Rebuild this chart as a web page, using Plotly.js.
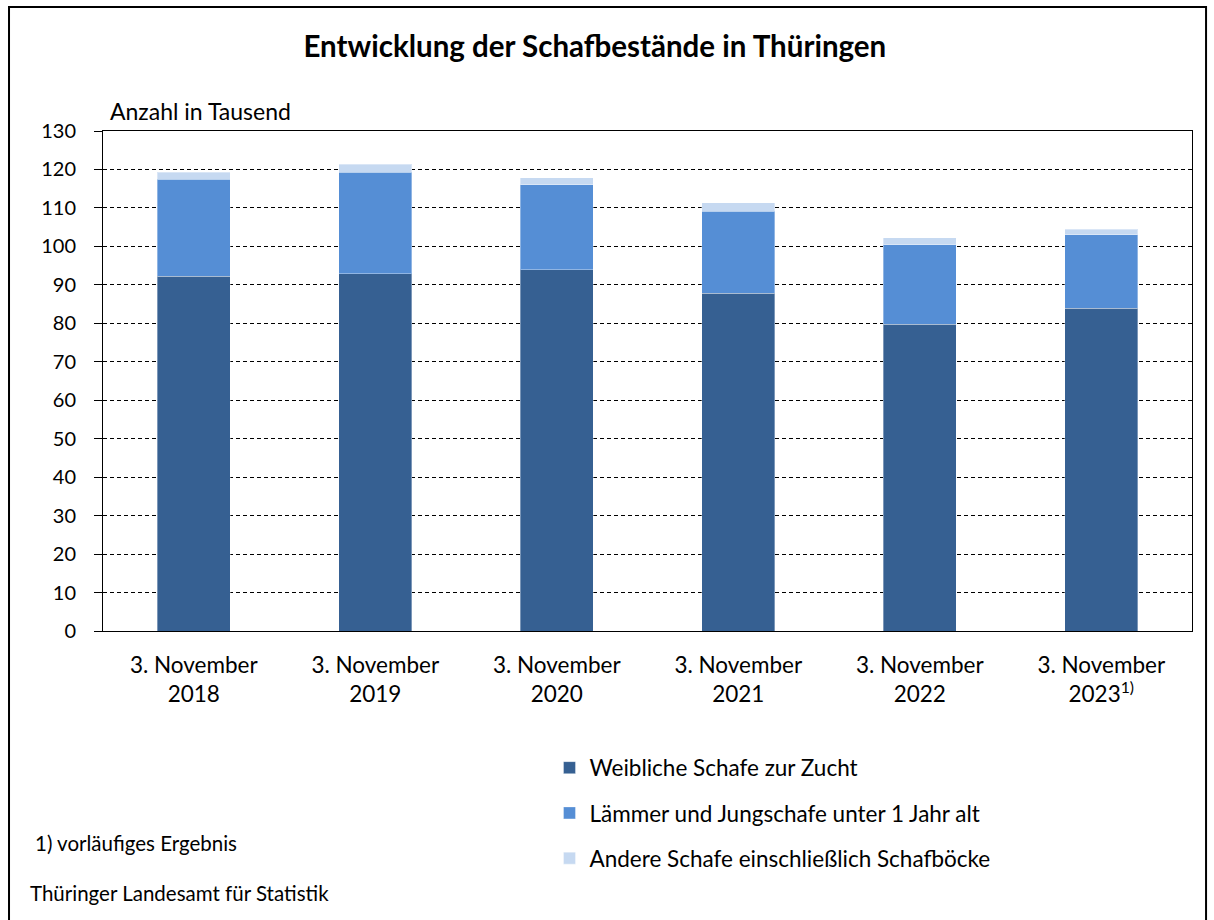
<!DOCTYPE html>
<html><head><meta charset="utf-8">
<script src="https://cdn.plot.ly/plotly-3.0.1.min.js"></script>
<style>html,body{margin:0;padding:0;background:#fff}#chart{width:1214px;height:920px}</style>
</head><body><div id="chart"></div>
<script>
const categories = ["3. November<br>2018","3. November<br>2019","3. November<br>2020","3. November<br>2021","3. November<br>2022","3. November<br>2023<sup>1)</sup>"];
const weiblicheZucht = [92.2, 92.9, 93.9, 87.8, 79.7, 83.9];
const laemmerJung = [25.2, 26.4, 22.1, 21.3, 20.7, 19.1];
const andereSchafe = [1.9, 2.1, 1.8, 2.2, 1.8, 1.5];
const seriesNames = ["Weibliche Schafe zur Zucht","Lämmer und Jungschafe unter 1 Jahr alt","Andere Schafe einschließlich Schafböcke"];
const yTicks = [0,10,20,30,40,50,60,70,80,90,100,110,120,130];

const FONT = "Lato, 'Source Sans Pro', sans-serif";
const colors = ["#366092","#558ED5","#C6D9F1"];
const data = [weiblicheZucht, laemmerJung, andereSchafe].map((vals,i)=>({
  type:'bar', x:categories, y:vals, name:seriesNames[i], legendgroup:'g'+i,
  marker:{color:colors[i], line:{color:'rgba(255,255,255,0.35)', width:1}},
  hoverinfo:'y+name'
}));

const layout = {
  width:1214, height:920,
  paper_bgcolor:'#fff', plot_bgcolor:'#fff',
  margin:{l:103, r:22, t:131, b:289},
  barmode:'stack', bargap:0.6,
  font:{family:FONT, size:22, color:'#000'},
  title:{text:'<b>Entwicklung der Schafbestände in Thüringen</b>', font:{family:FONT, size:29.5, color:'#000'}, x:0.49, xanchor:'center', y:0.949, yanchor:'middle'},
  xaxis:{showline:true, linecolor:'#000', linewidth:1, mirror:true, ticks:'', tickfont:{size:22.5}, showgrid:false, ticklabelstandoff:14, automargin:false},
  yaxis:{range:[0,130], tickvals:yTicks, showline:true, linecolor:'#000', linewidth:1, mirror:true,
    ticks:'outside', ticklen:8, tickcolor:'#000', showgrid:true, gridcolor:'#000', gridwidth:1, griddash:'4px,3px',
    zeroline:false, tickfont:{size:20}, ticklabelstandoff:14, automargin:false},
  showlegend:true,
  legend:{x:0.41, xanchor:'left', y:-0.231, yanchor:'top', traceorder:'grouped', tracegroupgap:13, font:{size:22.5}, bgcolor:'rgba(0,0,0,0)'},
  annotations:[
    {text:'Anzahl in Tausend', xref:'paper', yref:'paper', x:0.005, y:1.04, xanchor:'left', yanchor:'middle', showarrow:false, font:{size:23}},
    {text:'1) vorläufiges Ergebnis', xref:'paper', yref:'paper', x:-0.064, y:-0.424, xanchor:'left', yanchor:'middle', showarrow:false, font:{size:20.5}},
    {text:'Thüringer Landesamt für Statistik', xref:'paper', yref:'paper', x:-0.069, y:-0.524, xanchor:'left', yanchor:'middle', showarrow:false, font:{size:20.5}}
  ],
  shapes:[
    {type:'rect', xref:'paper', yref:'paper', x0:-0.0863, x1:1.0129, y0:-0.6, y1:1.248, line:{color:'#000', width:2}, fillcolor:'rgba(0,0,0,0)', layer:'above'}
  ]
};
Plotly.newPlot('chart', data, layout, {displayModeBar:false, staticPlot:true});
</script></body></html>
